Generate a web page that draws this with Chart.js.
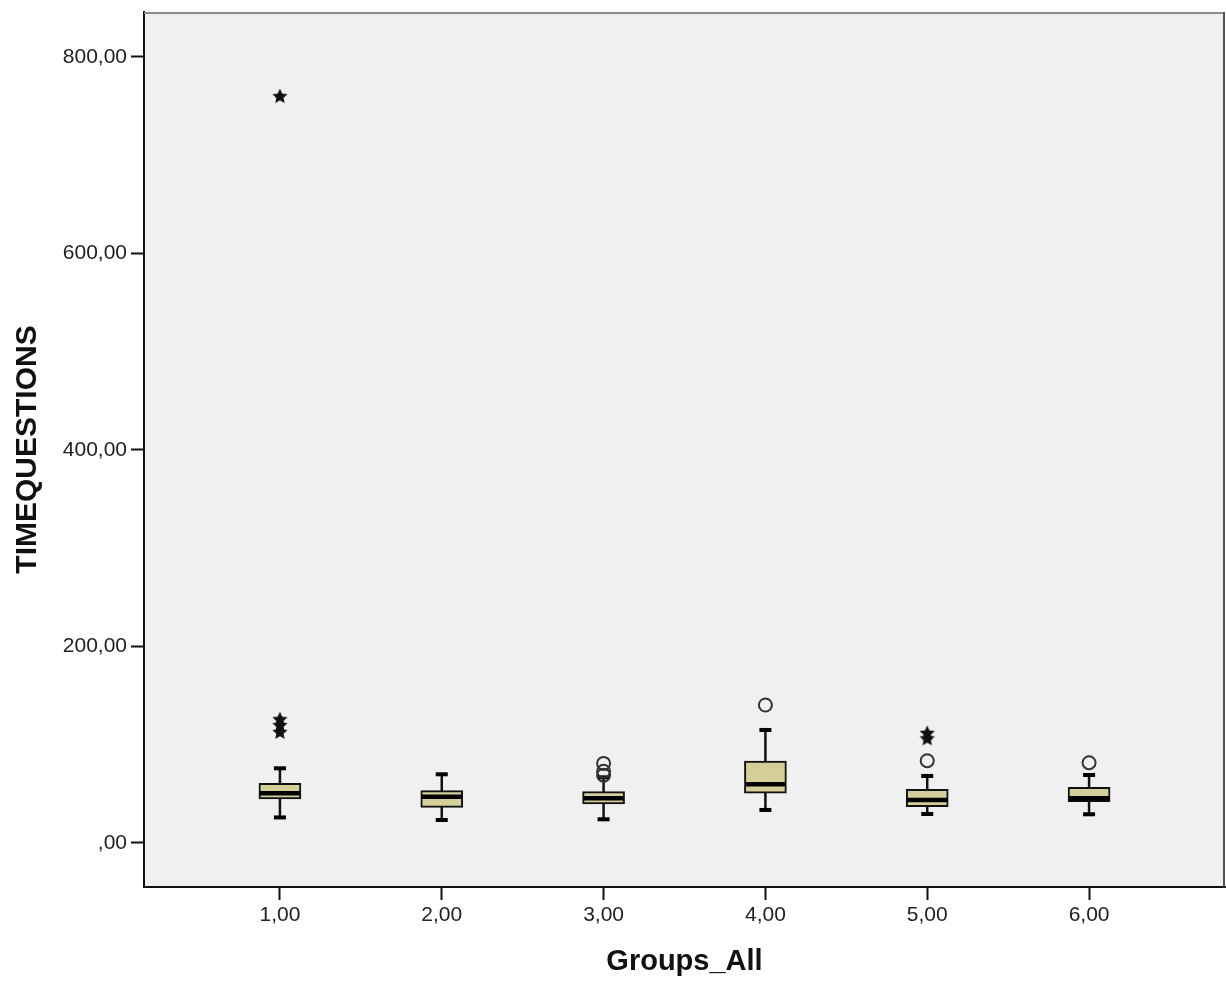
<!DOCTYPE html>
<html>
<head>
<meta charset="utf-8">
<script src="https://cdn.jsdelivr.net/npm/chart.js@4/dist/chart.umd.min.js"></script>
<style>
  html, body { margin: 0; padding: 0; background: #fff; overflow: hidden; }
  #wrap { width: 1226px; height: 985px; }
</style>
</head>
<body>
<div id="wrap"><canvas id="box-chart"></canvas></div>
<script>
// box plot values
const groups = [1, 2, 3, 4, 5, 6];
const whiskerLow = [26, 23.4, 24.1, 33.6, 29.5, 29.2];
const q1 = [44.8, 36.3, 39.7, 50.6, 36.9, 42];
const median = [50.6, 47.1, 45.5, 59.7, 43.8, 45.5];
const q3 = [60.7, 53.2, 52.2, 83.4, 54.6, 56.7];
const whiskerHigh = [76, 69.9, 66.8, 115, 68.2, 69.2];
const circleOutliers = [[], [], [81, 73, 69], [140.4], [83.7], [81.7]];
const starOutliers = [[760, 126, 120, 113], [], [], [], [112, 106.5], []];
const yTicks = [0, 200, 400, 600, 800];

const fmt = v => v === 0 ? ',00' : v.toFixed(2).replace('.', ',');

// little asterisk used by SPSS for extreme values
function makeStar() {
    const c = document.createElement('canvas');
    c.width = 18; c.height = 18;
    const g = c.getContext('2d');
    g.fillStyle = '#111';
    g.beginPath();
    for (let i = 0; i < 10; i++) {
        const r = i % 2 === 0 ? 8 : 3.8;
        const a = -Math.PI / 2 + i * Math.PI / 5;
        const px = 9 + r * Math.cos(a), py = 9.5 + r * Math.sin(a);
        if (i === 0) g.moveTo(px, py); else g.lineTo(px, py);
    }
    g.closePath();
    g.fill();
    return c;
}

const whiskerData = [];
groups.forEach((g, i) => {
    whiskerData.push({ x: g, y: whiskerLow[i] }, { x: g, y: whiskerHigh[i] }, { x: g, y: null });
});
const capData = [];
groups.forEach((g, i) => {
    capData.push({ x: g, y: whiskerLow[i] }, { x: g, y: whiskerHigh[i] });
});
const circleData = [];
const starData = [];
groups.forEach((g, i) => {
    circleOutliers[i].forEach(v => circleData.push({ x: g, y: v }));
    starOutliers[i].forEach(v => starData.push({ x: g, y: v }));
});

const frame = {
    id: 'frame',
    beforeDraw(chart) {
        const { ctx, chartArea: a } = chart;
        ctx.save();
        ctx.fillStyle = '#f0f0f0';
        ctx.fillRect(a.left, a.top, a.right - a.left, a.bottom - a.top);
        ctx.restore();
    },
    afterDraw(chart) {
        const { ctx, chartArea: a } = chart;
        ctx.save();
        ctx.strokeStyle = '#8a8a8a';
        ctx.lineWidth = 2;
        ctx.beginPath();
        ctx.moveTo(a.left, a.top + 1);
        ctx.lineTo(a.right, a.top + 1);
        ctx.stroke();
        ctx.strokeStyle = '#555';
        ctx.beginPath();
        ctx.moveTo(a.right - 1, a.top);
        ctx.lineTo(a.right - 1, a.bottom);
        ctx.stroke();
        ctx.restore();
    }
};

// no extra room for half labels, the frame is placed by hand
const noPad = s => { s.paddingTop = 0; s.paddingBottom = 0; s.paddingLeft = 0; s.paddingRight = 0; };

new Chart(document.getElementById('box-chart'), {
    data: {
        datasets: [
            {
                type: 'line',
                data: whiskerData,
                borderColor: '#111',
                borderWidth: 2.5,
                pointRadius: 0,
                spanGaps: false,
                order: 4
            },
            {
                type: 'bar',
                data: groups.map((g, i) => ({ x: g, y: [q1[i], q3[i]] })),
                backgroundColor: '#d4cf98',
                borderColor: '#111',
                borderWidth: 2,
                borderSkipped: false,
                barThickness: 42,
                order: 3
            },
            {
                type: 'scatter',
                data: groups.map((g, i) => ({ x: g, y: median[i] })),
                pointStyle: 'line',
                radius: 20,
                borderColor: '#000',
                borderWidth: 4.5,
                order: 2
            },
            {
                type: 'scatter',
                data: capData,
                pointStyle: 'line',
                radius: 6,
                borderColor: '#000',
                borderWidth: 4,
                order: 2
            },
            {
                type: 'scatter',
                data: circleData,
                pointStyle: 'circle',
                radius: 6.5,
                backgroundColor: 'transparent',
                borderColor: '#333',
                borderWidth: 2,
                order: 1
            },
            {
                type: 'scatter',
                data: starData,
                pointStyle: makeStar(),
                order: 1
            }
        ]
    },
    options: {
        responsive: true,
        maintainAspectRatio: false,
        animation: false,
        layout: { autoPadding: false, padding: { top: 12, right: 1, left: 0, bottom: 0 } },
        plugins: {
            legend: { display: false },
            tooltip: { enabled: false }
        },
        scales: {
            x: {
                type: 'linear',
                min: 0.16,
                max: 6.84,
                offset: false,
                afterBuildTicks: s => { s.ticks = groups.map(v => ({ value: v })); },
                afterFit: s => { s.height = 98; noPad(s); },
                ticks: {
                    callback: fmt,
                    color: '#222',
                    padding: 3,
                    font: { family: 'Liberation Sans', size: 21 }
                },
                grid: {
                    offset: false,
                    drawOnChartArea: false,
                    drawTicks: true,
                    tickLength: 13,
                    tickColor: '#111',
                    tickWidth: 2
                },
                border: { display: true, color: '#111', width: 2 },
                title: {
                    display: true,
                    text: 'Groups_All',
                    color: '#111',
                    padding: { top: 0, bottom: 6 },
                    font: { family: 'Liberation Sans', size: 29, weight: 'bold' }
                }
            },
            y: {
                type: 'linear',
                min: -44.8,
                max: 845.6,
                afterBuildTicks: s => { s.ticks = yTicks.map(v => ({ value: v })); },
                afterFit: s => { s.width = 144; noPad(s); },
                ticks: {
                    callback: fmt,
                    color: '#222',
                    padding: 4,
                    font: { family: 'Liberation Sans', size: 21 }
                },
                grid: {
                    drawOnChartArea: false,
                    drawTicks: true,
                    tickLength: 13,
                    tickColor: '#111',
                    tickWidth: 2
                },
                border: { display: true, color: '#111', width: 2 },
                title: {
                    display: true,
                    text: 'TIMEQUESTIONS',
                    color: '#111',
                    padding: { top: 10, bottom: 0 },
                    font: { family: 'Liberation Sans', size: 30, weight: 'bold' }
                }
            }
        }
    },
    plugins: [frame]
});
</script>
</body>
</html>
